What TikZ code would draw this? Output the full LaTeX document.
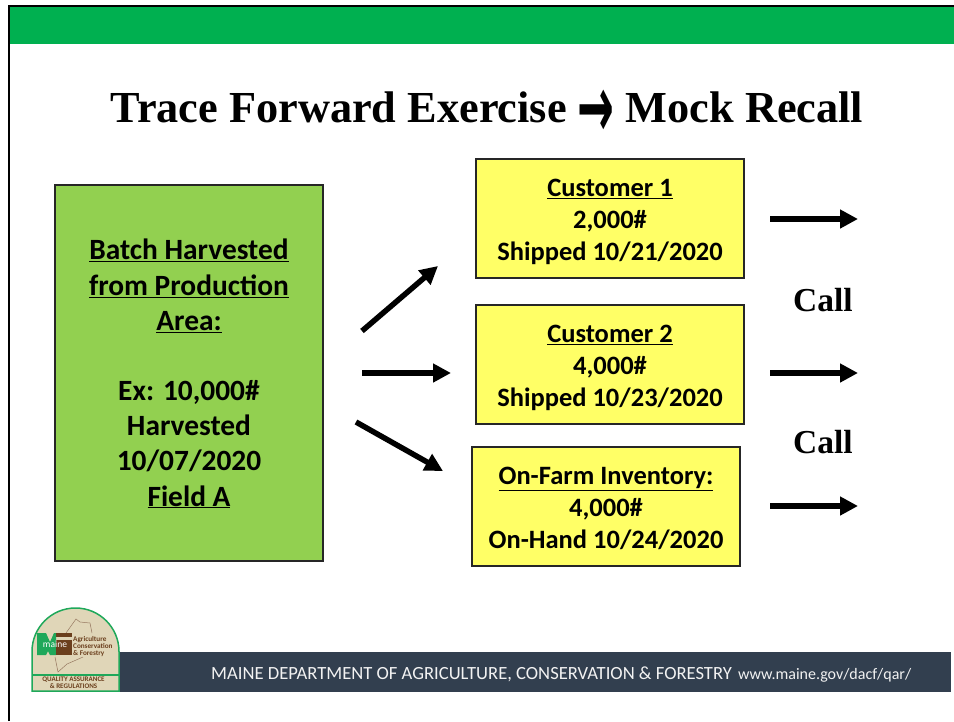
\documentclass[tikz,border=0pt]{standalone}
\usepackage{fontspec}
\usepackage{graphicx}
\setmainfont{Carlito}
\newfontfamily\arrowfont{DejaVu Sans}
\newfontfamily\headfont{Liberation Serif}
\usetikzlibrary{positioning}
\usetikzlibrary{arrows.meta}
\usepackage{xcolor}
\definecolor{bandgreen}{HTML}{00B050}
\definecolor{batchgreen}{HTML}{92D050}
\definecolor{boxyellow}{HTML}{FFFF66}
\definecolor{footerblue}{HTML}{323F4F}
\definecolor{logotan}{HTML}{E0D6B8}
\definecolor{logobrown}{HTML}{6B3F1D}
\definecolor{logogreen}{HTML}{1FA85A}
\tikzset{
    batchbox/.style={draw=black!85, line width=1.5pt, fill=batchgreen, minimum width=268, minimum height=376, inner sep=0pt, align=center, font=\fontsize{29.4}{35.15}\selectfont\bfseries, text height=270pt, text depth=4pt},
    custbox/.style={draw=black!85, line width=1.5pt, fill=boxyellow, minimum width=268, minimum height=119, inner sep=0pt, align=center, font=\fontsize{26.5}{32}\selectfont\bfseries, text height=88pt, text depth=4pt},
    flow/.style={-{Triangle[length=18pt,width=18pt]}, line width=5.5pt, black},
    calltext/.style={font=\headfont\fontsize{33.5}{33.5}\selectfont\bfseries, inner sep=0pt},
}
\begin{document}
\begin{tikzpicture}[x=1pt,y=-1pt]
    \useasboundingbox (0,0) rectangle (954,721);
    % frame and bands
    \fill[bandgreen] (9,6) rectangle (954,44);
    \draw[black, line width=2.5pt] (9,721) -- (9,6) -- (954,6);
    \fill[footerblue] (119,652) rectangle (951,692);

    \node[font=\headfont\fontsize{44.3}{44.3}\selectfont\bfseries, inner sep=0pt] (title) at (487,113.5)
        {Trace Forward Exercise {\arrowfont\fontsize{44}{44}\selectfont\bfseries\raisebox{-15pt}{\scalebox{1}[2]{→}}} Mock Recall};

    \node[batchbox] (batch) at (189,373) {\underline{Batch Harvested}\\\underline{from Production}\\\underline{Area:}\\[35.15pt]Ex: 10,000\#\\Harvested\\10/07/2020\\\underline{Field A}};
    \node[custbox] (cust1) at (610,218.5) {\underline{Customer 1}\\2,000\#\\Shipped 10/21/2020};
    \node[custbox] (cust2) at (610,364.5) {\underline{Customer 2}\\4,000\#\\Shipped 10/23/2020};
    \node[custbox] (inv) at (606,506.5) {\underline{On-Farm Inventory:}\\4,000\#\\On-Hand 10/24/2020};

    \coordinate (up) at (362,331);
    \coordinate (mid) at (362,373);
    \coordinate (low) at (356,422);
    \coordinate (upend) at (438,266);
    \coordinate (midend) at (451,373);
    \coordinate (lowend) at (443,471);
    \draw[flow] (up) -- (upend);
    \draw[flow] (mid) -- (midend);
    \draw[flow] (low) -- (lowend);

    \coordinate (out1) at (770,219);
    \coordinate (out2) at (770,373);
    \coordinate (out3) at (770,506);
    \coordinate (outend1) at (858,219);
    \coordinate (outend2) at (858,373);
    \coordinate (outend3) at (858,506);
    \draw[flow] (out1) -- (outend1);
    \draw[flow] (out2) -- (outend2);
    \draw[flow] (out3) -- (outend3);

    \node[calltext] (call1) at (823,300) {Call};
    \node[calltext] (call2) at (823,442) {Call};

    \node[font=\fontsize{18.6}{18.6}\selectfont, text=white!95!black, anchor=west, inner sep=0pt] (footer) at (211,674.5)
        {MAINE DEPARTMENT OF AGRICULTURE, CONSERVATION \& FORESTRY\hspace{2pt} {\fontsize{16}{16}\selectfont www.maine.gov/dacf/qar/}};

    % logo
    \fill[logotan] (32,691) -- (32,651.5) arc (-180:0:43.5) -- (119,691) -- cycle;
    \draw[logogreen, line width=1.5pt] (32,691) -- (32,651.5) arc (-180:0:43.5) -- (119,691) -- cycle;
    \draw[logogreen, line width=1.5pt] (32,675) -- (119,675);
    \draw[logobrown!70, line width=.5pt] (66,633) -- (76,619) -- (80,622) -- (90,623) -- (92,633);
    \draw[logobrown!70, line width=.5pt] (55,657) -- (58,672) -- (67,664) -- (83,657);
    \fill[logogreen] (37,633) -- (46,633) -- (50,642) -- (54,633) -- (56,633) -- (56,655) -- (50,655) -- (48,651) -- (46,655) -- (37,655) -- cycle;
    \fill[logobrown] (56,633) rectangle (72,637);
    \fill[logobrown] (56,640) rectangle (72,651);
    \fill[logobrown] (56,651) -- (72,651) -- (72,655) -- (56,655) -- cycle;
    \node[text=white, font=\fontsize{9.5}{9.5}\selectfont, inner sep=0pt] (mainename) at (55,644.5) {maine};
    \node[text=logobrown, font=\fontsize{7.2}{6.6}\selectfont\bfseries, align=left, anchor=west, inner sep=0pt] (dept) at (73,646.5) {Agriculture\\Conservation\\\& Forestry};
    \node[text=logobrown, font=\fontsize{7}{7.4}\selectfont\bfseries, align=center, inner sep=0pt] (qar) at (73.5,683) {QUALITY ASSURANCE\\\& REGULATIONS};
\end{tikzpicture}
\end{document}
